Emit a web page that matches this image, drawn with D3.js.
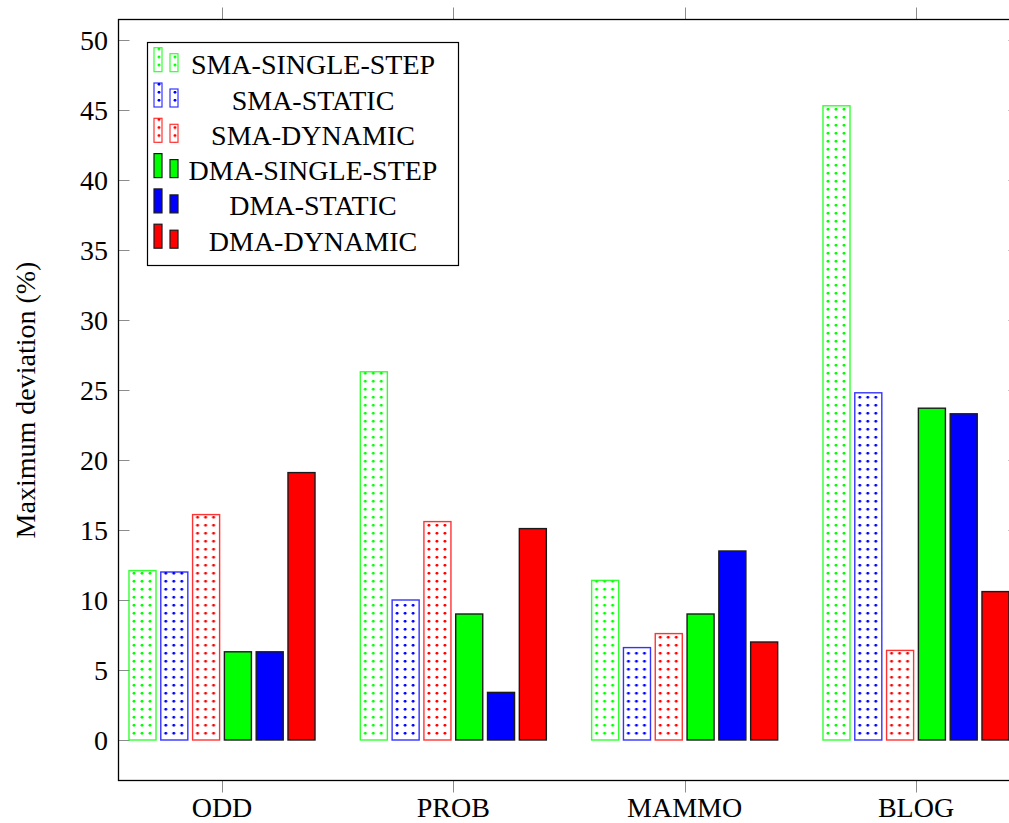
<!DOCTYPE html>
<html>
<head>
<meta charset="utf-8">
<script src="https://cdn.jsdelivr.net/npm/d3@7"></script>
<style>
  html, body { margin: 0; padding: 0; background: #fff; }
  #chart text { font-family: "Liberation Serif", "Nimbus Roman", "Nimbus Roman No9 L", "Times New Roman", "DejaVu Serif", serif; }
</style>
</head>
<body>
<svg id="chart" width="1009" height="823"></svg>
<script>
// Datasets along the x axis
const categories = ["ODD", "PROB", "MAMMO", "BLOG"];

// Series (in legend order)
const seriesNames = ["SMA-SINGLE-STEP", "SMA-STATIC", "SMA-DYNAMIC",
                     "DMA-SINGLE-STEP", "DMA-STATIC", "DMA-DYNAMIC"];

// Maximum deviation (%) per series, one value per dataset
const smaSingleStep = [12.1, 26.3, 11.4, 45.3];
const smaStatic     = [12.0, 10.0, 6.6, 24.8];
const smaDynamic    = [16.1, 15.6, 7.6, 6.4];
const dmaSingleStep = [6.3, 9.0, 9.0, 23.7];
const dmaStatic     = [6.3, 3.4, 13.5, 23.3];
const dmaDynamic    = [19.1, 15.1, 7.0, 10.6];

const yTicks = [0, 5, 10, 15, 20, 25, 30, 35, 40, 45, 50];

(function () {
  const seriesValues = [smaSingleStep, smaStatic, smaDynamic, dmaSingleStep, dmaStatic, dmaDynamic];
  const seriesColors = ["#00ff00", "#0000ff", "#ff0000", "#00ff00", "#0000ff", "#ff0000"];
  const seriesDotted = [true, true, true, false, false, false];

  const svg = d3.select("#chart");

  // Plot frame
  const frameL = 118.5, frameR = 1019.5, frameT = 19.5, frameB = 780.5;

  const y = d3.scaleLinear().domain([0, 50]).range([740, 40]);
  const x = d3.scalePoint().domain(categories).range([222, 916]);
  const xs = d3.scaleBand().domain(seriesNames).range([-95.4, 95.4])
    .paddingInner(0.15).paddingOuter(0.075);

  // Dot patterns for the SMA bars
  const defs = svg.append("defs");
  ["#00ff00", "#0000ff", "#ff0000"].forEach((c, i) => {
    const p = defs.append("pattern")
      .attr("id", "dots" + i)
      .attr("patternUnits", "userSpaceOnUse")
      .attr("width", 8).attr("height", 8);
    p.append("circle").attr("cx", 5).attr("cy", 1.3).attr("r", 1.45).attr("fill", c);
  });
  const fillFor = (si) => seriesDotted[si] ? `url(#dots${si % 3})` : seriesColors[si];

  // Ticks (grey) on all four sides
  const tickG = svg.append("g").attr("stroke", "#8c8c8c").attr("stroke-width", 1);
  yTicks.forEach(t => {
    const yy = Math.round(y(t)) + 0.5;
    tickG.append("line").attr("x1", frameL).attr("x2", frameL + 11).attr("y1", yy).attr("y2", yy);
    tickG.append("line").attr("x1", frameR - 11).attr("x2", frameR).attr("y1", yy).attr("y2", yy);
  });
  categories.forEach(c => {
    const xx = Math.round(x(c)) + 0.5;
    tickG.append("line").attr("x1", xx).attr("x2", xx).attr("y1", frameB).attr("y2", frameB + 12);
    tickG.append("line").attr("x1", xx).attr("x2", xx).attr("y1", frameT).attr("y2", frameT - 12);
  });

  // Bars
  const barsG = svg.append("g");
  seriesNames.forEach((name, si) => {
    categories.forEach((cat, ci) => {
      const v = seriesValues[si][ci];
      const x0 = x(cat) + xs(name);
      const g = barsG.append("g").attr("transform", `translate(${x0},${y(0)})`);
      g.append("rect")
        .attr("x", 0).attr("y", y(v) - y(0))
        .attr("width", xs.bandwidth()).attr("height", y(0) - y(v))
        .attr("fill", fillFor(si))
        .attr("stroke", seriesDotted[si] ? seriesColors[si] : "#1a1a1a")
        .attr("stroke-opacity", seriesDotted[si] ? 0.8 : 1)
        .attr("stroke-width", 1.4);
    });
  });

  // Axis frame
  svg.append("rect")
    .attr("x", frameL).attr("y", frameT)
    .attr("width", frameR - frameL).attr("height", frameB - frameT)
    .attr("fill", "none").attr("stroke", "#000").attr("stroke-width", 1.3);

  // Y tick labels
  svg.append("g").selectAll("text").data(yTicks).join("text")
    .attr("x", 108).attr("y", d => y(d) + 9.5)
    .attr("text-anchor", "end")
    .attr("font-size", 28).attr("fill", "#000")
    .text(d => d);

  // X tick labels
  svg.append("g").selectAll("text").data(categories).join("text")
    .attr("x", d => x(d)).attr("y", 817)
    .attr("text-anchor", "middle")
    .attr("font-size", 28).attr("fill", "#000")
    .text(d => d);

  // Y axis title
  svg.append("text")
    .attr("transform", "translate(35,400) rotate(-90)")
    .attr("text-anchor", "middle")
    .attr("font-size", 28).attr("fill", "#000")
    .text("Maximum deviation (%)");

  // Legend
  const legend = svg.append("g");
  legend.append("rect")
    .attr("x", 147.5).attr("y", 42.5).attr("width", 311).attr("height", 223)
    .attr("fill", "#fff").attr("stroke", "#000").attr("stroke-width", 1.2);
  seriesNames.forEach((name, si) => {
    const by = 71.7 + si * 35.3;
    [[154, 24], [170, 18]].forEach(([bx, bh]) => {
      const g = legend.append("g").attr("transform", `translate(${bx},${by})`);
      g.append("rect")
        .attr("x", 0).attr("y", -bh).attr("width", 8).attr("height", bh)
        .attr("fill", fillFor(si))
        .attr("stroke", seriesDotted[si] ? seriesColors[si] : "#1a1a1a")
        .attr("stroke-opacity", seriesDotted[si] ? 0.8 : 1)
        .attr("stroke-width", 1.2);
    });
    legend.append("text")
      .attr("x", 313).attr("y", by + 2.5)
      .attr("text-anchor", "middle")
      .attr("font-size", 28).attr("fill", "#000")
      .text(name);
  });
})();
</script>
</body>
</html>
